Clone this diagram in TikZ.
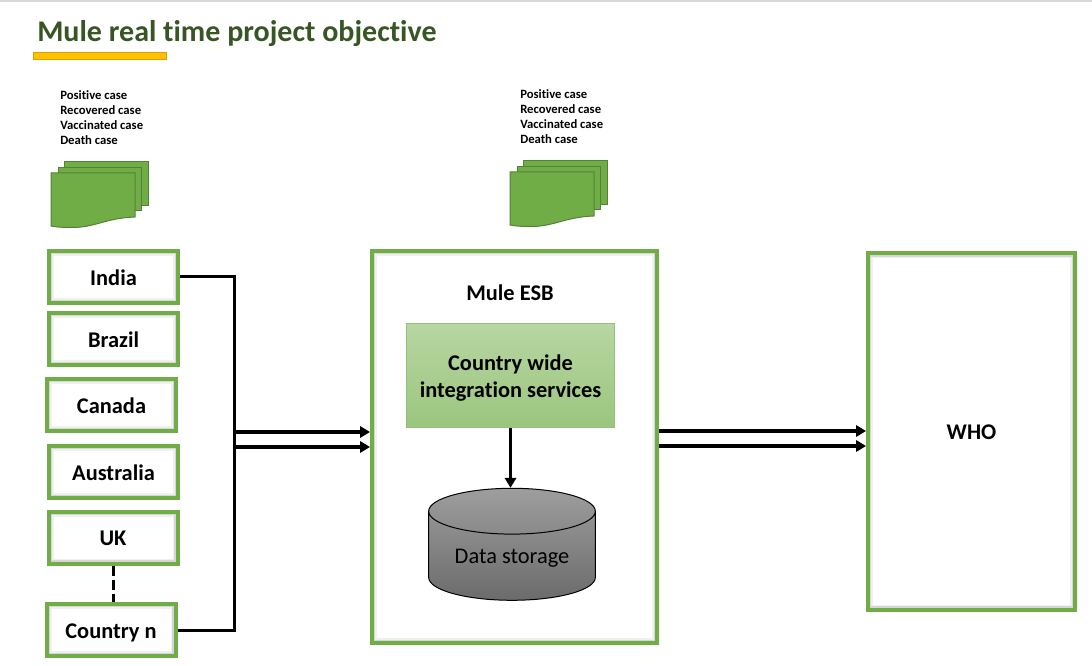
\documentclass[tikz,border=0pt]{standalone}
\usepackage{fontspec}
\setmainfont[Ligatures=CommonOff]{Carlito}
\usetikzlibrary{arrows.meta,shapes.geometric}
\definecolor{boxgreen}{HTML}{70AD47}
\definecolor{docedge}{HTML}{548235}
\definecolor{titlegreen}{HTML}{375623}
\definecolor{barfill}{HTML}{FFC000}
\tikzset{
    framebox/.style={draw=boxgreen, line width=3pt, fill=white, text height=12.5pt, text depth=0pt, font=\fontsize{16.8}{20}\selectfont\bfseries,
        path picture={
            \draw[gray!12, line width=7.5pt] (path picture bounding box.south west) rectangle (path picture bounding box.north east);
            \draw[gray!32, line width=5pt] (path picture bounding box.south west) rectangle (path picture bounding box.north east);
        }},
    countrybox/.style={framebox, minimum width=96.75pt, minimum height=39pt, inner sep=0pt},
    caselist/.style={anchor=north west, align=left, inner sep=0pt, font=\fontsize{9.5}{11.25}\selectfont\bfseries},
    link/.style={line width=2.25pt},
    flow/.style={line width=2.6pt, -{Triangle[length=7.5pt,width=8.5pt]}},
    paper/.style={draw=docedge, line width=0.75pt, fill=boxgreen},
    docstack/.pic={
        \draw[paper] (64,162) rectangle (148,206);
        \draw[paper] (58,168) rectangle (141,211);
        \draw[paper] (51,173) -- (135,173) -- (135,217) .. controls (105,218) and (95,228) .. (70,227.5) .. controls (62,227.5) and (56,227) .. (51,226) -- cycle;
    }
}
\begin{document}
\begin{tikzpicture}[x=0.75pt,y=-0.75pt]
    \useasboundingbox (0,0) rectangle (1092,666);
    \fill[gray!30] (0,0) rectangle (1092,2);

    % heading
    \node[anchor=west, inner sep=0pt, text=titlegreen, font=\fontsize{22.5}{27}\selectfont\bfseries] (heading) at (37,34) {Mule real time project objective};
    \draw[draw=barfill!85!black, fill=barfill, line width=0.6pt] (33.5,52.5) rectangle (166,59.5);

    % case lists and documents
    \node[caselist] (casesleft) at (60,90.5) {Positive case\\Recovered case\\Vaccinated case\\Death case};
    \node[caselist] (casesmid) at (520,89.5) {Positive case\\Recovered case\\Vaccinated case\\Death case};
    \pic at (0,0) {docstack};
    \pic at (459,-1) {docstack};

    % countries
    \node[countrybox] (india) at (113.5,277) {India};
    \node[countrybox] (brazil) at (113.5,339) {Brazil};
    \node[countrybox] (canada) at (111.5,405) {Canada};
    \node[countrybox] (australia) at (113.5,472) {Australia};
    \node[countrybox] (uk) at (113,537.5) {UK};
    \node[countrybox] (countryn) at (111,630) {Country n};
    \draw[link, dashed, dash pattern=on 7.5pt off 3pt] (uk) -- (uk |- countryn.north);

    % middle and right boxes
    \node[framebox, minimum width=213.75pt, minimum height=294pt] (mule) at (514.5,447) {};
    \node[font=\fontsize{16.8}{20}\selectfont\bfseries, inner sep=0pt] (mulelabel) at (510,293) {Mule ESB};
    \node[draw=boxgreen!75!white, line width=0.75pt, top color=boxgreen!50!white, bottom color=boxgreen!70!white, minimum width=156pt, minimum height=78pt, align=center, inner sep=0pt, text height=33.5pt, text depth=0pt, font=\fontsize{16.8}{20.25}\selectfont\bfseries] (services) at (510.5,375.5) {Country wide\\integration services};
    \node[draw=black, line width=0.75pt, shape=cylinder, shape border rotate=90, aspect=0.4, top color=black!38, bottom color=black!58, minimum width=125pt, minimum height=84pt, inner sep=0pt, text depth=0pt, font=\fontsize{16.8}{20}\selectfont] (storage) at (512,556) {Data storage};
    \node[framebox, minimum width=155.25pt, minimum height=267pt] (who) at (971.5,431.5) {WHO};

    % connectors
    \coordinate (bustop) at (234,277);
    \coordinate (busa) at (234,432);
    \coordinate (busb) at (234,447);
    \coordinate (outa) at (659,431);
    \coordinate (outb) at (659,446);
    \draw[link] (india.east |- bustop) -- (bustop) -- (bustop |- countryn) -- (countryn);
    \draw[flow] (busa) -- (busa -| mule.west);
    \draw[flow] (busb) -- (busb -| mule.west);
    \draw[flow] (outa) -- (outa -| who.west);
    \draw[flow] (outb) -- (outb -| who.west);
    \draw[flow] (services.south) -- (services.south |- storage.north);
\end{tikzpicture}
\end{document}
